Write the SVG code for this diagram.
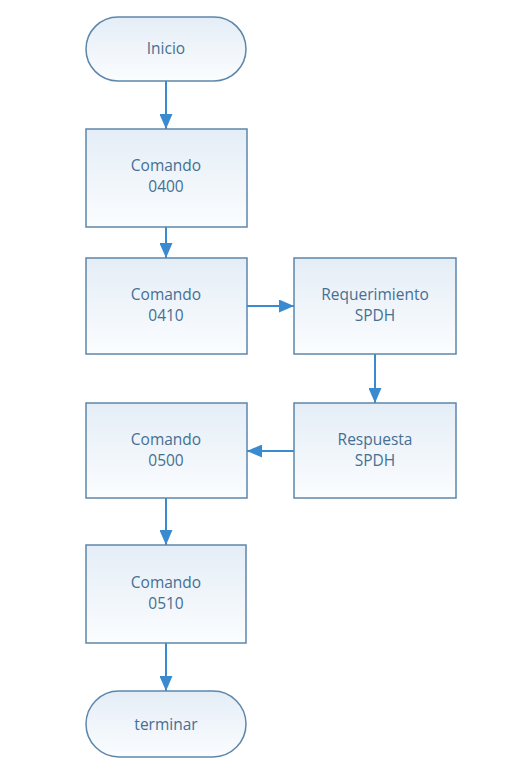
<svg xmlns="http://www.w3.org/2000/svg" width="529" height="772" viewBox="0 0 529 772">
<defs>
<linearGradient id="g" x1="0" y1="0" x2="0" y2="1">
<stop offset="0" stop-color="#e4edf6"/>
<stop offset="1" stop-color="#fbfdff"/>
</linearGradient>
<marker id="ah" markerWidth="15" markerHeight="13" refX="15" refY="6.5" orient="auto" markerUnits="userSpaceOnUse">
<path d="M0,0 L15,6.5 L0,13 Z" fill="#3a8ad0"/>
</marker>
<style>
.n{fill:url(#g);stroke:#5c86aa;stroke-width:1.5}
.t{font-family:"Open Sans","Noto Sans",sans-serif;font-size:15.5px;fill:#456f93;text-anchor:middle}
.c{stroke:#3a8ad0;stroke-width:2;fill:none;marker-end:url(#ah)}
</style>
</defs>
<rect width="529" height="772" fill="#ffffff"/>
<g id="connectors">
<line class="c" x1="166" y1="81" x2="166" y2="129"/>
<line class="c" x1="166" y1="227" x2="166" y2="258"/>
<line class="c" x1="247" y1="306" x2="294" y2="306"/>
<line class="c" x1="375" y1="354" x2="375" y2="403"/>
<line class="c" x1="294" y1="451" x2="247" y2="451"/>
<line class="c" x1="166" y1="498" x2="166" y2="545"/>
<line class="c" x1="166" y1="643" x2="166" y2="691"/>
</g>
<g id="inicio">
<rect class="n" x="86" y="17" width="160" height="64" rx="32" ry="32"/>
<text class="t" x="166" y="54">Inicio</text>
</g>
<g id="cmd0400">
<rect class="n" x="86" y="129" width="161" height="98"/>
<text class="t" x="166" y="171">Comando</text>
<text class="t" x="166" y="192">0400</text>
</g>
<g id="cmd0410">
<rect class="n" x="86" y="258" width="161" height="96"/>
<text class="t" x="166" y="300">Comando</text>
<text class="t" x="166" y="321">0410</text>
</g>
<g id="req">
<rect class="n" x="294" y="258" width="162" height="96"/>
<text class="t" x="375" y="300">Requerimiento</text>
<text class="t" x="375" y="321">SPDH</text>
</g>
<g id="resp">
<rect class="n" x="294" y="403" width="162" height="95"/>
<text class="t" x="375" y="445">Respuesta</text>
<text class="t" x="375" y="466">SPDH</text>
</g>
<g id="cmd0500">
<rect class="n" x="86" y="403" width="161" height="95"/>
<text class="t" x="166" y="445">Comando</text>
<text class="t" x="166" y="466">0500</text>
</g>
<g id="cmd0510">
<rect class="n" x="86" y="545" width="160" height="98"/>
<text class="t" x="166" y="588">Comando</text>
<text class="t" x="166" y="609">0510</text>
</g>
<g id="terminar">
<rect class="n" x="86" y="691" width="160" height="66" rx="33" ry="33"/>
<text class="t" x="166" y="730">terminar</text>
</g>
</svg>
